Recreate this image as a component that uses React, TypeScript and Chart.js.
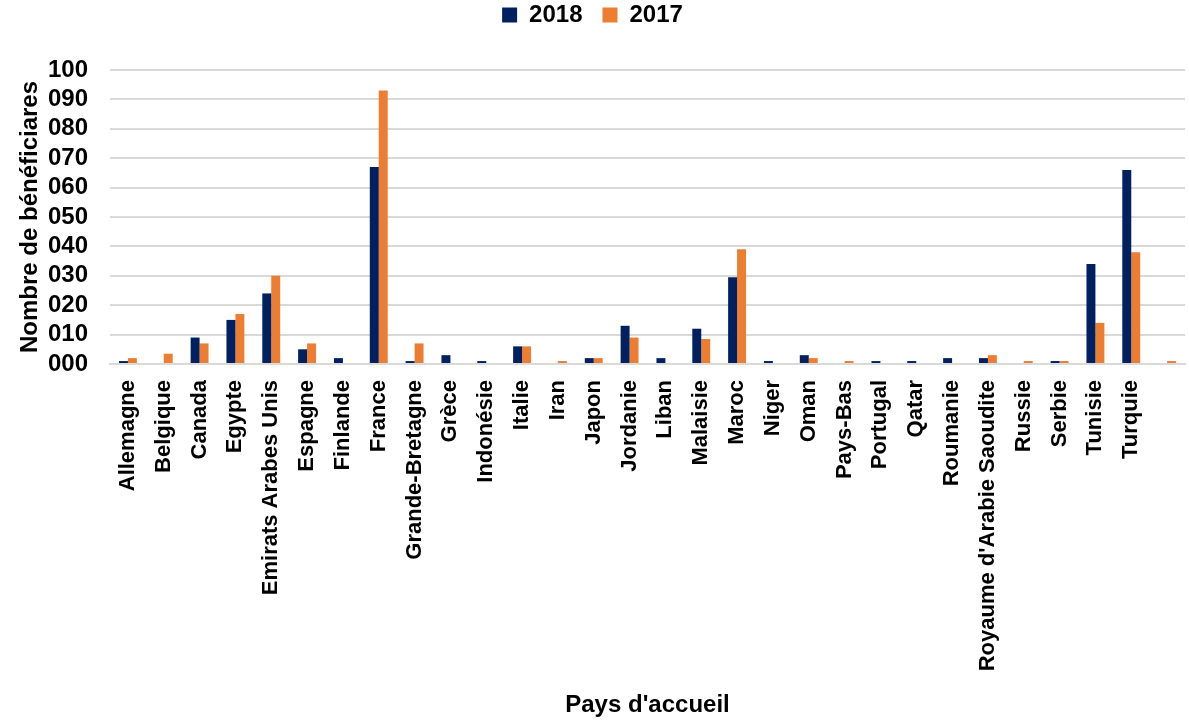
import React, { useEffect, useRef } from "react";
import { Chart, registerables } from "chart.js";

Chart.register(...registerables);

const categories = [
  "Allemagne", "Belgique", "Canada", "Egypte", "Emirats Arabes Unis", "Espagne",
  "Finlande", "France", "Grande-Bretagne", "Grèce", "Indonésie", "Italie", "Iran",
  "Japon", "Jordanie", "Liban", "Malaisie", "Maroc", "Niger", "Oman", "Pays-Bas",
  "Portugal", "Qatar", "Roumanie", "Royaume d'Arabie Saoudite", "Russie", "Serbie",
  "Tunisie", "Turquie", "",
];

const values2018 = [
  1, 0, 9, 15, 24, 5, 2, 67, 1, 3, 1, 6, 0, 2, 13, 2, 12, 29.5, 1, 3, 0, 1, 1, 2, 2, 0, 1, 34, 66, 0,
];

const values2017 = [
  2, 3.5, 7, 17, 30, 7, 0, 93, 7, 0, 0, 6, 1, 2, 9, 0, 8.5, 39, 0, 2, 1, 0, 0, 0, 3, 1, 1, 14, 38, 1,
];

const yTicks = [0, 10, 20, 30, 40, 50, 60, 70, 80, 90, 100];

const FONT = "'Liberation Sans', Arial, sans-serif";

export default function App() {
  const ref = useRef<HTMLCanvasElement>(null);

  useEffect(() => {
    document.body.style.margin = "0";
    const legendMargin = {
      id: "legendMargin",
      beforeInit(chart: any) {
        if (!chart.legend) return;
        const orig = chart.legend.fit;
        chart.legend.fit = function () {
          orig.call(this);
          this.height += 33;
        };
      },
    };
    const chart = new Chart(ref.current as HTMLCanvasElement, {
      type: "bar",
      data: {
        labels: categories,
        datasets: [
          {
            label: "2018",
            data: values2018,
            backgroundColor: "#002060",
            categoryPercentage: 0.5,
            barPercentage: 1,
          },
          {
            label: "2017",
            data: values2017,
            backgroundColor: "#ED7D31",
            categoryPercentage: 0.5,
            barPercentage: 1,
          },
        ],
      },
      options: {
        animation: false,
        responsive: false,
        maintainAspectRatio: false,
        layout: { padding: { left: 0, right: 4, top: -17, bottom: 0 } },
        plugins: {
          legend: {
            position: "top",
            labels: {
              boxWidth: 15,
              boxHeight: 15,
              padding: 20,
              color: "#000",
              font: { family: FONT, size: 24, weight: "bold" },
            },
          },
          tooltip: { enabled: false },
        },
        scales: {
          x: {
            grid: { display: false, drawTicks: false },
            border: { color: "#d9d9d9", width: 2 },
            ticks: {
              autoSkip: false,
              maxRotation: 90,
              minRotation: 90,
              padding: 16,
              color: "#000",
              font: { family: FONT, size: 22, weight: "bold" },
            },
            title: {
              display: true,
              text: "Pays d'accueil",
              color: "#000",
              font: { family: FONT, size: 24, weight: "bold" },
              padding: { top: 0, bottom: 4 },
            },
            afterFit(scale: any) {
              scale.height = 360;
              scale.paddingLeft = 0;
              scale.paddingRight = 0;
            },
          },
          y: {
            min: 0,
            max: 100,
            grid: { color: "#d9d9d9", lineWidth: 2, drawTicks: false },
            border: { display: false },
            afterBuildTicks(scale: any) {
              scale.ticks = yTicks.map((v) => ({ value: v }));
            },
            ticks: {
              autoSkip: false,
              padding: 22,
              color: "#000",
              font: { family: FONT, size: 24, weight: "bold" },
              callback: (v: any) => String(v).padStart(3, "0"),
            },
            title: {
              display: true,
              text: "Nombre de bénéficiares",
              color: "#000",
              font: { family: FONT, size: 24, weight: "bold" },
              padding: { top: 16, bottom: 0 },
            },
            afterFit(scale: any) {
              scale.width = 110;
            },
          },
        },
      },
      plugins: [legendMargin],
    } as any);
    return () => chart.destroy();
  }, []);

  return (
    <div style={{ position: "absolute", left: 0, top: 0, width: 1189, height: 724 }}>
      <canvas ref={ref} width={1189} height={724} style={{ width: 1189, height: 724 }} />
    </div>
  );
}
